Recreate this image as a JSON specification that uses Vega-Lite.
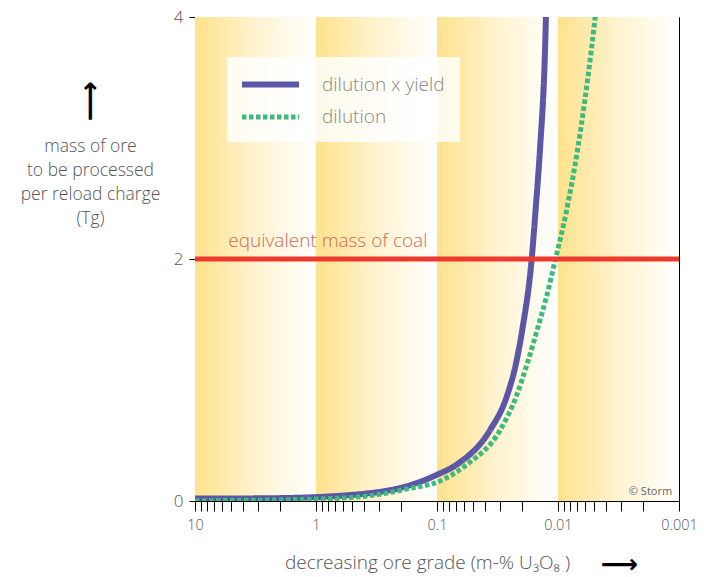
{
  "$schema": "https://vega.github.io/schema/vega-lite/v6.json",
  "width": 484,
  "height": 484,
  "autosize": {"type": "none"},
  "padding": {"left": 195, "top": 17, "right": 33, "bottom": 76},
  "background": "white",
  "config": {
    "view": {"stroke": "black", "strokeWidth": 1},
    "font": "Open Sans",
    "axis": {"grid": false, "domainColor": "black", "tickColor": "black", "labelColor": "#555555", "titleColor": "#555555", "titleFontWeight": 300, "labelFontWeight": 300}
  },
  "datasets": {
    "bands": [
      {"from": 10, "to": 1},
      {"from": 1, "to": 0.1},
      {"from": 0.1, "to": 0.01},
      {"from": 0.01, "to": 0.001}
    ],
    "curves": [
      {"series": "dilution x yield", "grade": 10, "mass": 0.02},
      {"series": "dilution x yield", "grade": 3, "mass": 0.022},
      {"series": "dilution x yield", "grade": 1.2, "mass": 0.029},
      {"series": "dilution x yield", "grade": 0.6, "mass": 0.045},
      {"series": "dilution x yield", "grade": 0.4, "mass": 0.06},
      {"series": "dilution x yield", "grade": 0.3, "mass": 0.075},
      {"series": "dilution x yield", "grade": 0.184, "mass": 0.118},
      {"series": "dilution x yield", "grade": 0.1, "mass": 0.217},
      {"series": "dilution x yield", "grade": 0.0667, "mass": 0.31},
      {"series": "dilution x yield", "grade": 0.0365, "mass": 0.585},
      {"series": "dilution x yield", "grade": 0.0266, "mass": 0.86},
      {"series": "dilution x yield", "grade": 0.0222, "mass": 1.14},
      {"series": "dilution x yield", "grade": 0.0197, "mass": 1.42},
      {"series": "dilution x yield", "grade": 0.0165, "mass": 2.0},
      {"series": "dilution x yield", "grade": 0.0152, "mass": 2.45},
      {"series": "dilution x yield", "grade": 0.0141, "mass": 2.9},
      {"series": "dilution x yield", "grade": 0.0128, "mass": 3.73},
      {"series": "dilution x yield", "grade": 0.0125, "mass": 4.1},
      {"series": "dilution", "grade": 10, "mass": 0.002},
      {"series": "dilution", "grade": 1, "mass": 0.016},
      {"series": "dilution", "grade": 0.5, "mass": 0.03},
      {"series": "dilution", "grade": 0.3, "mass": 0.055},
      {"series": "dilution", "grade": 0.167, "mass": 0.105},
      {"series": "dilution", "grade": 0.1, "mass": 0.155},
      {"series": "dilution", "grade": 0.0569, "mass": 0.3},
      {"series": "dilution", "grade": 0.0301, "mass": 0.585},
      {"series": "dilution", "grade": 0.0222, "mass": 0.86},
      {"series": "dilution", "grade": 0.0179, "mass": 1.14},
      {"series": "dilution", "grade": 0.0148, "mass": 1.42},
      {"series": "dilution", "grade": 0.0125, "mass": 1.68},
      {"series": "dilution", "grade": 0.0106, "mass": 1.98},
      {"series": "dilution", "grade": 0.0085, "mass": 2.4},
      {"series": "dilution", "grade": 0.0069, "mass": 2.9},
      {"series": "dilution", "grade": 0.0053, "mass": 3.73},
      {"series": "dilution", "grade": 0.0048, "mass": 4.1}
    ],
    "notes": [
      {"label": "equivalent mass of coal", "grade": 5.3, "mass": 2, "kind": "coal"},
      {"label": "© Storm", "grade": 0.00114, "mass": 0.075, "kind": "credit"}
    ]
  },
  "layer": [
    {
      "layer": [
        {
          "data": {"name": "bands"},
          "mark": {
            "type": "rect",
            "color": {
              "gradient": "linear", "x1": 0, "x2": 1, "y1": 0, "y2": 0,
              "stops": [
                {"offset": 0, "color": "#FFE28C"},
                {"offset": 0.5, "color": "#FFF3D0"},
                {"offset": 1, "color": "#FFFFFF"}
              ]
            }
          },
          "encoding": {
            "x": {"field": "from", "type": "quantitative"},
            "x2": {"field": "to"}
          }
        },
        {
          "data": {"name": "curves"},
          "mark": {"type": "line", "interpolate": "monotone", "clip": true, "strokeCap": "butt"},
          "encoding": {
            "x": {
              "field": "grade", "type": "quantitative",
              "scale": {"type": "log", "domain": [0.001, 10], "reverse": true},
              "axis": {
                "values": [10, 9, 8, 7, 6, 5, 4, 3, 2, 1, 0.9, 0.8, 0.7, 0.6, 0.5, 0.4, 0.3, 0.2, 0.1, 0.09, 0.08, 0.07, 0.06, 0.05, 0.04, 0.03, 0.02, 0.01, 0.009, 0.008, 0.007, 0.006, 0.005, 0.004, 0.003, 0.002, 0.001],
                "format": "~g",
                "labelExpr": "indexof([10, 1, 0.1, 0.01, 0.001], datum.value) >= 0 ? datum.label : ''",
                "labelOverlap": false,
                "labelFlush": false,
                "labelFontSize": 14.5,
                "labelPadding": 7,
                "tickSize": 10,
                "title": "decreasing ore grade (m-% U₃O₈ )",
                "titleFontSize": 19,
                "titleX": 232,
                "titleY": 67,
                "titleAlign": "center",
                "titleBaseline": "alphabetic"
              }
            },
            "y": {
              "field": "mass", "type": "quantitative",
              "scale": {"domain": [0, 4], "nice": false},
              "axis": {
                "values": [0, 2, 4],
                "format": "d",
                "labelFontSize": 17,
                "labelPadding": 6,
                "tickSize": 6,
                "title": ["mass of ore", "to be processed", "per reload charge", "(Tg)"],
                "titleFontSize": 17.5,
                "titleLineHeight": 24,
                "titleAngle": 0,
                "titleAlign": "center",
                "titleBaseline": "top",
                "titleX": -105,
                "titleY": 120
              }
            },
            "color": {
              "field": "series", "type": "nominal",
              "scale": {"domain": ["dilution x yield", "dilution"], "range": ["#5B57A6", "#3DBB7E"]},
              "legend": {
                "title": null,
                "orient": "none",
                "legendX": 32,
                "legendY": 40,
                "padding": 15,
                "fillColor": "rgba(255,255,255,0.82)",
                "symbolType": "M-3,0H3",
                "symbolSize": 361,
                "symbolStrokeWidth": 6,
                "symbolOffset": 16,
                "labelFontSize": 19,
                "labelFontWeight": 300,
                "labelColor": "#888888",
                "labelOffset": 39,
                "rowPadding": 8
              }
            },
            "strokeDash": {
              "field": "series", "type": "nominal",
              "scale": {"domain": ["dilution x yield", "dilution"], "range": [[1, 0], [4.5, 2.5]]}
            },
            "strokeWidth": {
              "field": "series", "type": "nominal",
              "scale": {"domain": ["dilution x yield", "dilution"], "range": [6, 5]},
              "legend": null
            }
          }
        },
        {
          "data": {"name": "notes"},
          "transform": [{"filter": "datum.kind == 'coal'"}],
          "encoding": {
            "y": {"field": "mass", "type": "quantitative"}
          },
          "layer": [
            {
              "mark": {"type": "rule", "color": "#EE3A2E", "strokeWidth": 5}
            },
            {
              "mark": {"type": "text", "align": "left", "baseline": "alphabetic", "dy": -12, "fontSize": 19, "fontWeight": 300, "color": "#CD6B55"},
              "encoding": {
                "x": {"field": "grade", "type": "quantitative"},
                "text": {"field": "label"}
              }
            }
          ]
        }
      ]
    },
    {
      "data": {"name": "notes"},
      "transform": [{"filter": "datum.kind == 'credit'"}],
      "mark": {"type": "text", "align": "right", "baseline": "middle", "fontSize": 11, "color": "#666666"},
      "encoding": {
        "x": {
          "field": "grade", "type": "quantitative",
          "axis": {"orient": "top", "domain": false, "ticks": false, "labels": false, "title": "⟶", "titleFont": "DejaVu Sans", "titleFontSize": 26, "titleFontWeight": "bold", "titleColor": "black", "titleX": 424, "titleY": 547, "titleAlign": "center", "titleBaseline": "middle"}
        },
        "y": {
          "field": "mass", "type": "quantitative",
          "axis": {"orient": "right", "domain": false, "ticks": false, "labels": false, "title": "⟶", "titleFont": "DejaVu Sans", "titleFontSize": 28, "titleFontWeight": "bold", "titleColor": "black", "titleAngle": 270, "titleX": -589, "titleY": 84, "titleAlign": "center", "titleBaseline": "middle"}
        },
        "text": {"field": "label"}
      }
    }
  ],
  "resolve": {"axis": {"x": "independent", "y": "independent"}}
}
